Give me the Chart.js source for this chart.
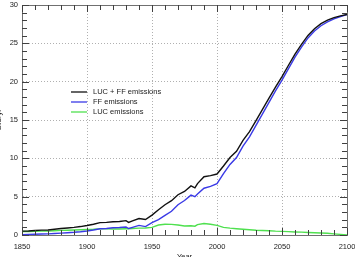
<!DOCTYPE html>
<html lang="en">
	<head>
		<meta charset="UTF-8" />
		<title>Emissions</title>
		<script src="https://cdn.jsdelivr.net/npm/chart.js@4.4.0/dist/chart.umd.min.js"></script>
		<style>
			body { margin: 0; background: #fff; }
			#wrap { width: 355px; height: 257px; }
		</style>
	</head>
	<body>
		<div id="wrap"><canvas id="emisChart" width="355" height="257"></canvas></div>

		<script>
			// values (GtC/yr)
			const years = [1850, 1855, 1860, 1865, 1870, 1875, 1880, 1885, 1890, 1895, 1900, 1905, 1910, 1915, 1920, 1925, 1930, 1932, 1935, 1940, 1945, 1950, 1955, 1960, 1965, 1970, 1975, 1980, 1983, 1985, 1990, 1995, 2000, 2005, 2010, 2015, 2020, 2025, 2030, 2035, 2040, 2045, 2050, 2055, 2060, 2065, 2070, 2075, 2080, 2085, 2090, 2095, 2100];
			const lucFf = [0.5, 0.52, 0.58, 0.63, 0.65, 0.75, 0.85, 0.92, 1.0, 1.1, 1.24, 1.4, 1.62, 1.65, 1.73, 1.76, 1.87, 1.65, 1.85, 2.15, 2.02, 2.6, 3.3, 3.95, 4.48, 5.25, 5.68, 6.4, 6.15, 6.7, 7.6, 7.75, 7.95, 9.0, 10.1, 10.92, 12.35, 13.48, 14.92, 16.38, 17.85, 19.3, 20.67, 22.14, 23.6, 24.87, 26.03, 26.9, 27.57, 28.02, 28.35, 28.58, 28.77];
			const ff = [0.05, 0.07, 0.1, 0.13, 0.15, 0.2, 0.25, 0.3, 0.35, 0.42, 0.52, 0.65, 0.82, 0.85, 0.95, 0.98, 1.05, 0.85, 1.0, 1.25, 1.1, 1.6, 2.0, 2.55, 3.1, 3.95, 4.5, 5.2, 5.0, 5.35, 6.1, 6.35, 6.7, 8.0, 9.2, 10.1, 11.6, 12.8, 14.3, 15.8, 17.3, 18.8, 20.2, 21.7, 23.2, 24.5, 25.7, 26.6, 27.3, 27.8, 28.2, 28.5, 28.75];
			const luc = [0.45, 0.45, 0.48, 0.5, 0.5, 0.55, 0.6, 0.62, 0.65, 0.68, 0.72, 0.75, 0.8, 0.8, 0.78, 0.78, 0.82, 0.8, 0.85, 0.9, 0.92, 1.0, 1.3, 1.4, 1.38, 1.3, 1.18, 1.2, 1.15, 1.35, 1.5, 1.4, 1.25, 1.0, 0.9, 0.82, 0.75, 0.68, 0.62, 0.58, 0.55, 0.5, 0.47, 0.44, 0.4, 0.37, 0.33, 0.3, 0.27, 0.22, 0.15, 0.08, 0.02];
			const xTickLabels = [1850, 1900, 1950, 2000, 2050, 2100];
			const yTickLabels = [0, 5, 10, 15, 20, 25, 30];

			const FONT = "'Liberation Sans', Arial, Helvetica, sans-serif";
			const pts = (vals) => years.map((y, i) => ({ x: y, y: vals[i] }));

			// 그리드는 주 눈금에만, 테두리 위치는 제외
			const gridColor = (labels, lo, hi) => (c) => {
				const v = c.tick && c.tick.value;
				return labels.includes(v) && v !== lo && v !== hi ? "#b0b0b0" : "rgba(0,0,0,0)";
			};

			const fixSize = (w, h) => (scale) => {
				if (w !== null) scale.width = w;
				if (h !== null) scale.height = h;
				scale.paddingLeft = 0;
				scale.paddingRight = 0;
				scale.paddingTop = 0;
				scale.paddingBottom = 0;
			};

			// 안쪽으로 향하는 눈금 (네 변 모두)
			const innerTicks = {
				id: "innerTicks",
				afterDraw(chart) {
					const { ctx, chartArea: a } = chart;
					const sx = chart.scales.x;
					const sy = chart.scales.y;
					ctx.save();
					ctx.setLineDash([]);
					ctx.strokeStyle = "#404040";
					ctx.lineWidth = 1;
					ctx.beginPath();
					sx.ticks.forEach((t) => {
						const px = Math.round(sx.getPixelForValue(t.value)) + 0.5;
						const len = xTickLabels.includes(t.value) ? 7 : 5;
						ctx.moveTo(px, a.bottom);
						ctx.lineTo(px, a.bottom - len);
						ctx.moveTo(px, a.top);
						ctx.lineTo(px, a.top + len);
					});
					sy.ticks.forEach((t) => {
						const py = Math.round(sy.getPixelForValue(t.value)) + 0.5;
						const len = yTickLabels.includes(t.value) ? 7 : 5;
						ctx.moveTo(a.left, py);
						ctx.lineTo(a.left + len, py);
						ctx.moveTo(a.right, py);
						ctx.lineTo(a.right - len, py);
					});
					ctx.stroke();
					ctx.restore();
				},
			};

			// 범례 (차트 영역 안)
			const insideLegend = {
				id: "insideLegend",
				afterDatasetsDraw(chart) {
					const { ctx, chartArea: a } = chart;
					const x0 = a.left + 49;
					const y0 = a.top + 87;
					ctx.save();
					ctx.font = "7.5px " + FONT;
					ctx.textBaseline = "middle";
					chart.data.datasets.forEach((ds, i) => {
						const y = y0 + i * 10;
						ctx.strokeStyle = ds.borderColor;
						ctx.lineWidth = 1.3;
						ctx.beginPath();
						ctx.moveTo(x0, y);
						ctx.lineTo(x0 + 16, y);
						ctx.stroke();
						ctx.fillStyle = "#222";
						ctx.fillText(ds.label, x0 + 22, y);
					});
					ctx.restore();
				},
			};

			const ctx = document.getElementById("emisChart").getContext("2d");
			new Chart(ctx, {
				type: "line",
				data: {
					datasets: [
						{ label: "LUC + FF emissions", data: pts(lucFf), borderColor: "#111111" },
						{ label: "FF emissions", data: pts(ff), borderColor: "#3a3ae6" },
						{ label: "LUC emissions", data: pts(luc), borderColor: "#4fe04f" },
					],
				},
				plugins: [insideLegend, innerTicks],
				options: {
					responsive: false,
					animation: false,
					devicePixelRatio: 1,
					layout: { padding: 0 },
					elements: {
						point: { radius: 0 },
						line: { borderWidth: 1.4, tension: 0 },
					},
					plugins: {
						legend: { display: false },
						tooltip: { enabled: false },
					},
					scales: {
						x: {
							type: "linear",
							position: "bottom",
							min: 1850,
							max: 2100,
							afterFit: fixSize(null, 22),
							ticks: {
								stepSize: 10,
								autoSkip: false,
								maxRotation: 0,
								minRotation: 0,
								padding: 7,
								color: "#222",
								font: { family: FONT, size: 7.5 },
								callback: (v) => (xTickLabels.includes(v) ? String(v) : ""),
							},
							grid: { drawTicks: false, color: gridColor(xTickLabels, 1850, 2100), lineWidth: 1 },
							border: { display: true, color: "#707070", width: 1, dash: [1, 2] },
							title: {
								display: true,
								text: "Year",
								color: "#222",
								font: { family: FONT, size: 7.5 },
								padding: { top: 0, bottom: -4 },
							},
						},
						x2: {
							type: "linear",
							position: "top",
							min: 1850,
							max: 2100,
							afterFit: fixSize(null, 5),
							ticks: { display: false },
							grid: { display: false, drawTicks: false },
							border: { display: true, color: "#707070", width: 1 },
						},
						y: {
							type: "linear",
							position: "left",
							min: 0,
							max: 30,
							afterFit: fixSize(22, null),
							ticks: {
								stepSize: 1,
								autoSkip: false,
								padding: 4,
								color: "#222",
								font: { family: FONT, size: 7.5 },
								callback: (v) => (yTickLabels.includes(v) ? String(v) : ""),
							},
							grid: { drawTicks: false, color: gridColor(yTickLabels, 0, 30), lineWidth: 1 },
							border: { display: true, color: "#707070", width: 1, dash: [1, 2] },
							title: {
								display: true,
								text: "GtC/yr",
								color: "#222",
								font: { family: FONT, size: 7.5 },
								padding: { top: -6, bottom: 0 },
							},
						},
						y2: {
							type: "linear",
							position: "right",
							min: 0,
							max: 30,
							afterFit: fixSize(8, null),
							ticks: { display: false },
							grid: { display: false, drawTicks: false },
							border: { display: true, color: "#707070", width: 1 },
						},
					},
				},
			});
		</script>
	</body>
</html>
